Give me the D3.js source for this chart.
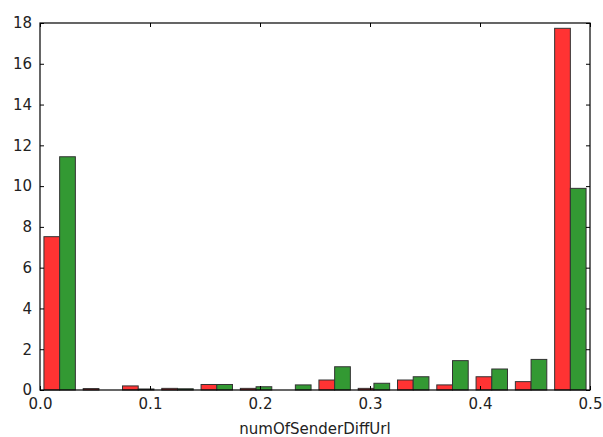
<!DOCTYPE html>
<html lang="en">
<head>
    <meta charset="UTF-8">
    <title>numOfSenderDiffUrl histogram</title>
    <script src="https://d3js.org/d3.v7.min.js"></script>
    <style>
body {
    margin: 0;
    background: #fff;
}
svg {
    display: block;
    font-family: "DejaVu Sans", sans-serif;
}
    </style>
</head>
<body>
    <svg id="chart" width="603" height="437"></svg>
    <script>
// 14 bins between 0 and 0.5
const binCount = 14;
const xDomain = [0, 0.5];
const redValues = [7.52, 0.07, 0.2, 0.08, 0.27, 0.08, 0, 0.49, 0.08, 0.49, 0.25, 0.65, 0.41, 17.74];
const greenValues = [11.44, 0, 0.05, 0.06, 0.27, 0.16, 0.25, 1.14, 0.33, 0.65, 1.44, 1.03, 1.5, 9.89];
const xTicks = [0, 0.1, 0.2, 0.3, 0.4, 0.5];
const yTicks = [0, 2, 4, 6, 8, 10, 12, 14, 16, 18];
const xLabel = "numOfSenderDiffUrl";

const width = 603;
const height = 437;
const margin = { top: 23, right: 13, bottom: 47, left: 40 };

const svg = d3.select("#chart");

const x = d3.scaleLinear().domain(xDomain).range([margin.left, width - margin.right]);
const y = d3.scaleLinear().domain([0, 18]).range([height - margin.bottom, margin.top]);

const binWidth = (xDomain[1] - xDomain[0]) / binCount;
const bins = d3.range(binCount).map(i => xDomain[0] + i * binWidth);

const series = [
    { values: redValues, color: "#ff3333", offset: 0.1 },
    { values: greenValues, color: "#339933", offset: 0.5 }
];

series.forEach(s => {
    svg.append("g")
        .selectAll("rect")
        .data(bins)
        .join("rect")
        .attr("x", (d, i) => x(d + s.offset * binWidth))
        .attr("width", x(binWidth * 0.4) - x(0))
        .attr("y", (d, i) => y(s.values[i]))
        .attr("height", (d, i) => y(0) - y(s.values[i]))
        .attr("fill", s.color)
        .attr("stroke", "#333")
        .attr("stroke-width", 1);
});

// axes, classic style: ticks inside on all four sides
const tickSize = 4;
const fontSize = 15;

const axisBottomG = svg.append("g")
    .attr("transform", `translate(0,${height - margin.bottom})`)
    .call(d3.axisBottom(x).tickValues(xTicks).tickFormat(d3.format(".1f")).tickSizeInner(-tickSize).tickSizeOuter(0).tickPadding(8));
const axisTopG = svg.append("g")
    .attr("transform", `translate(0,${margin.top})`)
    .call(d3.axisTop(x).tickValues(xTicks).tickFormat("").tickSizeInner(-tickSize).tickSizeOuter(0));
const axisLeftG = svg.append("g")
    .attr("transform", `translate(${margin.left},0)`)
    .call(d3.axisLeft(y).tickValues(yTicks).tickSizeInner(-tickSize).tickSizeOuter(0).tickPadding(8));
const axisRightG = svg.append("g")
    .attr("transform", `translate(${width - margin.right},0)`)
    .call(d3.axisRight(y).tickValues(yTicks).tickFormat("").tickSizeInner(-tickSize).tickSizeOuter(0));

[axisBottomG, axisTopG, axisLeftG, axisRightG].forEach(g => {
    g.select(".domain").remove();
    g.selectAll("line").attr("stroke", "#000");
    g.selectAll("text").attr("font-size", fontSize).attr("fill", "#222")
        .attr("font-family", "DejaVu Sans, sans-serif");
});

svg.append("rect")
    .attr("x", margin.left)
    .attr("y", margin.top)
    .attr("width", width - margin.left - margin.right)
    .attr("height", height - margin.top - margin.bottom)
    .attr("fill", "none")
    .attr("stroke", "#000")
    .attr("stroke-width", 1.2);

svg.append("text")
    .attr("x", (margin.left + width - margin.right) / 2)
    .attr("y", 434)
    .attr("text-anchor", "middle")
    .attr("font-size", fontSize)
    .attr("fill", "#222")
    .text(xLabel);
    </script>
</body>
</html>
